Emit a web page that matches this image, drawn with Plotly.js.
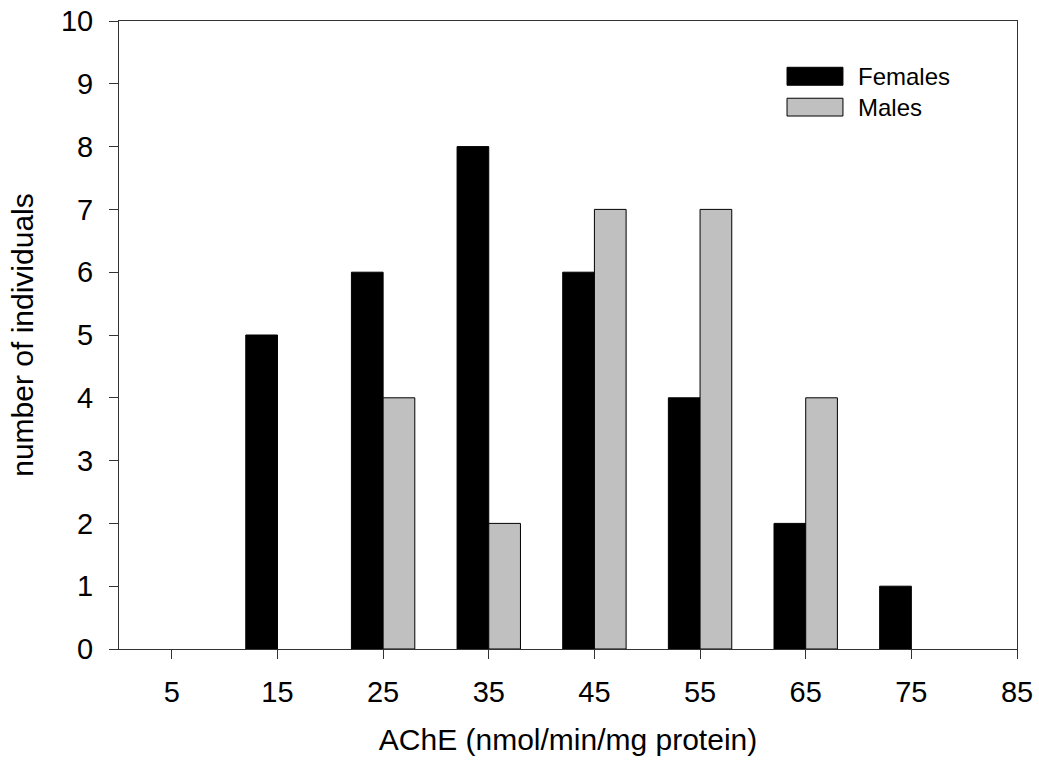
<!DOCTYPE html>
<html>
<head>
<meta charset="utf-8">
<script src="https://cdn.plot.ly/plotly-3.0.1.min.js"></script>
<style>html,body{margin:0;padding:0;background:#fff;}#chart{width:1039px;height:769px;}</style>
</head>
<body>
<div id="chart"></div>
<script>
var femaleBins = [15, 25, 35, 45, 55, 65, 75];
var femaleCounts = [5, 6, 8, 6, 4, 2, 1];
var maleBins = [25, 35, 45, 55, 65];
var maleCounts = [4, 2, 7, 7, 4];
var xTicks = [5, 15, 25, 35, 45, 55, 65, 75, 85];
var yTicks = [0, 1, 2, 3, 4, 5, 6, 7, 8, 9, 10];
var seriesNames = ["Females", "Males"];

var FONT = "Liberation Sans, Arial, sans-serif";
var traces = [
  {type: "bar", name: seriesNames[0], x: femaleBins, y: femaleCounts, width: 3, offset: -3,
   marker: {color: "#000000", line: {color: "#000000", width: 1}}, showlegend: false},
  {type: "bar", name: seriesNames[1], x: maleBins, y: maleCounts, width: 3, offset: 0,
   marker: {color: "#C0C0C0", line: {color: "#000000", width: 1}}, showlegend: false}
];

var layout = {
  width: 1039, height: 769,
  margin: {l: 119, r: 22, t: 21, b: 120},
  paper_bgcolor: "#fff", plot_bgcolor: "#fff",
  barmode: "overlay",
  font: {family: FONT, color: "#000", size: 29},
  xaxis: {
    range: [0, 85], tickvals: xTicks, ticktext: xTicks.map(String),
    ticks: "outside", ticklen: 9, tickwidth: 1, tickcolor: "#333",
    showline: true, linecolor: "#333", linewidth: 1, mirror: true,
    showgrid: false, zeroline: false, fixedrange: true,
    tickfont: {family: FONT, size: 29, color: "#000"},
    ticklabelstandoff: 8,
    title: {text: "AChE (nmol/min/mg protein)", font: {family: FONT, size: 30, color: "#000"}, standoff: 22}
  },
  yaxis: {
    range: [0, 10], tickvals: yTicks, ticktext: yTicks.map(String),
    ticks: "outside", ticklen: 9, tickwidth: 1, tickcolor: "#333",
    showline: true, linecolor: "#333", linewidth: 1, mirror: true,
    showgrid: false, zeroline: false, fixedrange: true,
    tickfont: {family: FONT, size: 29, color: "#000"},
    ticklabelstandoff: 10,
    title: {text: "number of individuals", font: {family: FONT, size: 30, color: "#000"}, standoff: 18}
  },
  shapes: [
    {type: "rect", xref: "paper", yref: "paper", x0: 0.7439, x1: 0.8062, y0: 0.8977, y1: 0.9263,
     fillcolor: "#000000", line: {color: "#000000", width: 1}},
    {type: "rect", xref: "paper", yref: "paper", x0: 0.7439, x1: 0.8062, y0: 0.8487, y1: 0.877,
     fillcolor: "#C0C0C0", line: {color: "#000000", width: 1}}
  ],
  annotations: [
    {xref: "paper", yref: "paper", x: 0.821, y: 0.912, xanchor: "left", yanchor: "middle",
     text: seriesNames[0], showarrow: false, font: {family: FONT, size: 24, color: "#000"}},
    {xref: "paper", yref: "paper", x: 0.821, y: 0.863, xanchor: "left", yanchor: "middle",
     text: seriesNames[1], showarrow: false, font: {family: FONT, size: 24, color: "#000"}}
  ]
};

Plotly.newPlot("chart", traces, layout, {displayModeBar: false, staticPlot: true});
</script>
</body>
</html>
